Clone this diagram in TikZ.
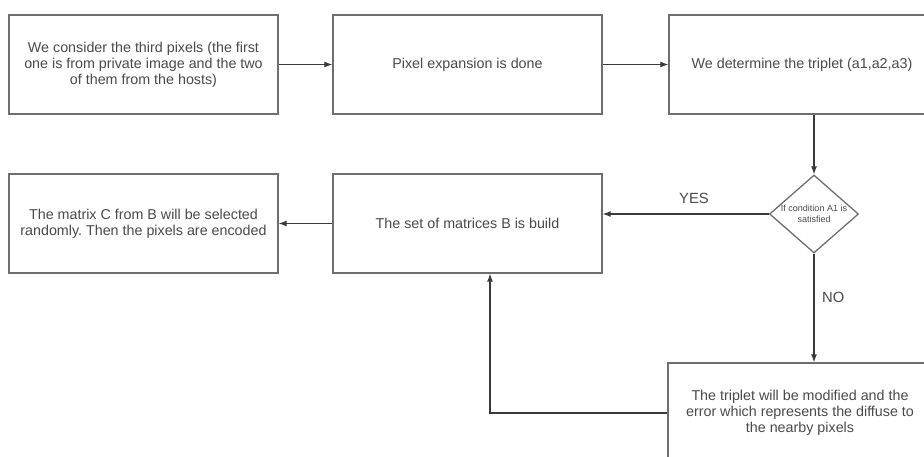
\documentclass[tikz,border=0pt]{standalone}
\usepackage{fontspec}
\setmainfont{Liberation Sans}
\usetikzlibrary{shapes.geometric,arrows.meta,calc}
\definecolor{boxline}{HTML}{6E6E6E}
\definecolor{txt}{HTML}{4A4A4A}
\definecolor{arr}{HTML}{3A3A3A}
\frenchspacing
\begin{document}
\begin{tikzpicture}[x=1pt,y=-1pt,
  stepbox/.style={draw=boxline,line width=1.3pt,fill=white,minimum width=269pt,minimum height=99pt,
    align=center,text=txt,inner sep=0pt,font=\fontsize{14.3}{16}\selectfont},
  cond/.style={draw=boxline,line width=1.3pt,diamond,minimum width=89pt,minimum height=78pt,inner sep=0pt},
  conn/.style={draw=arr,line width=1.2pt,-{Latex[length=8pt,width=6pt]}},
  lbl/.style={text=txt,font=\fontsize{14.8}{16}\selectfont,inner sep=0pt}]
\useasboundingbox (0,0) rectangle (924,457);
\node[stepbox] (b1) at (143.5,64.5) {We consider the third pixels (the first\\one is from private image and the two\\of them from the hosts)};
\node[stepbox] (b2) at (467.5,64.5) {Pixel expansion is done};
\node[stepbox,minimum width=266pt] (b3) at (802,64.5) {We determine the triplet (a1,a2,a3)};
\node[cond] (d) at (814,214) {};
\node[text=txt,align=center,inner sep=0pt,font=\fontsize{9}{10.5}\selectfont] (dt) at (814,214) {If condition A1 is\\satisfied};
\node[stepbox] (b4) at (467.5,223.5) {The set of matrices B is build};
\node[stepbox] (b5) at (143.5,223.5) {The matrix C from B will be selected\\randomly. Then the pixels are encoded};
\node[stepbox,minimum width=264pt,minimum height=100pt] (b6) at (800,413) {The triplet will be modified and the\\error which represents the diffuse to\\the nearby pixels};
\coordinate (fb) at ($(b4.south)+(22.5,0)$);
\draw[conn] (b1.east) -- (b2.west);
\draw[conn] (b2.east) -- (b3.west);
\draw[conn] (d.north |- b3.south) -- (d.north);
\draw[conn] (d.west) -- (d.west -| b4.east);
\draw[conn] (b4.west) -- (b5.east);
\draw[conn] (d.south) -- (d.south |- b6.north);
\draw[conn] (b6.west) -| (fb);
\node[lbl] (yes) at (694,198) {YES};
\node[lbl,anchor=west] (no) at (822,297) {NO};
\end{tikzpicture}
\end{document}
